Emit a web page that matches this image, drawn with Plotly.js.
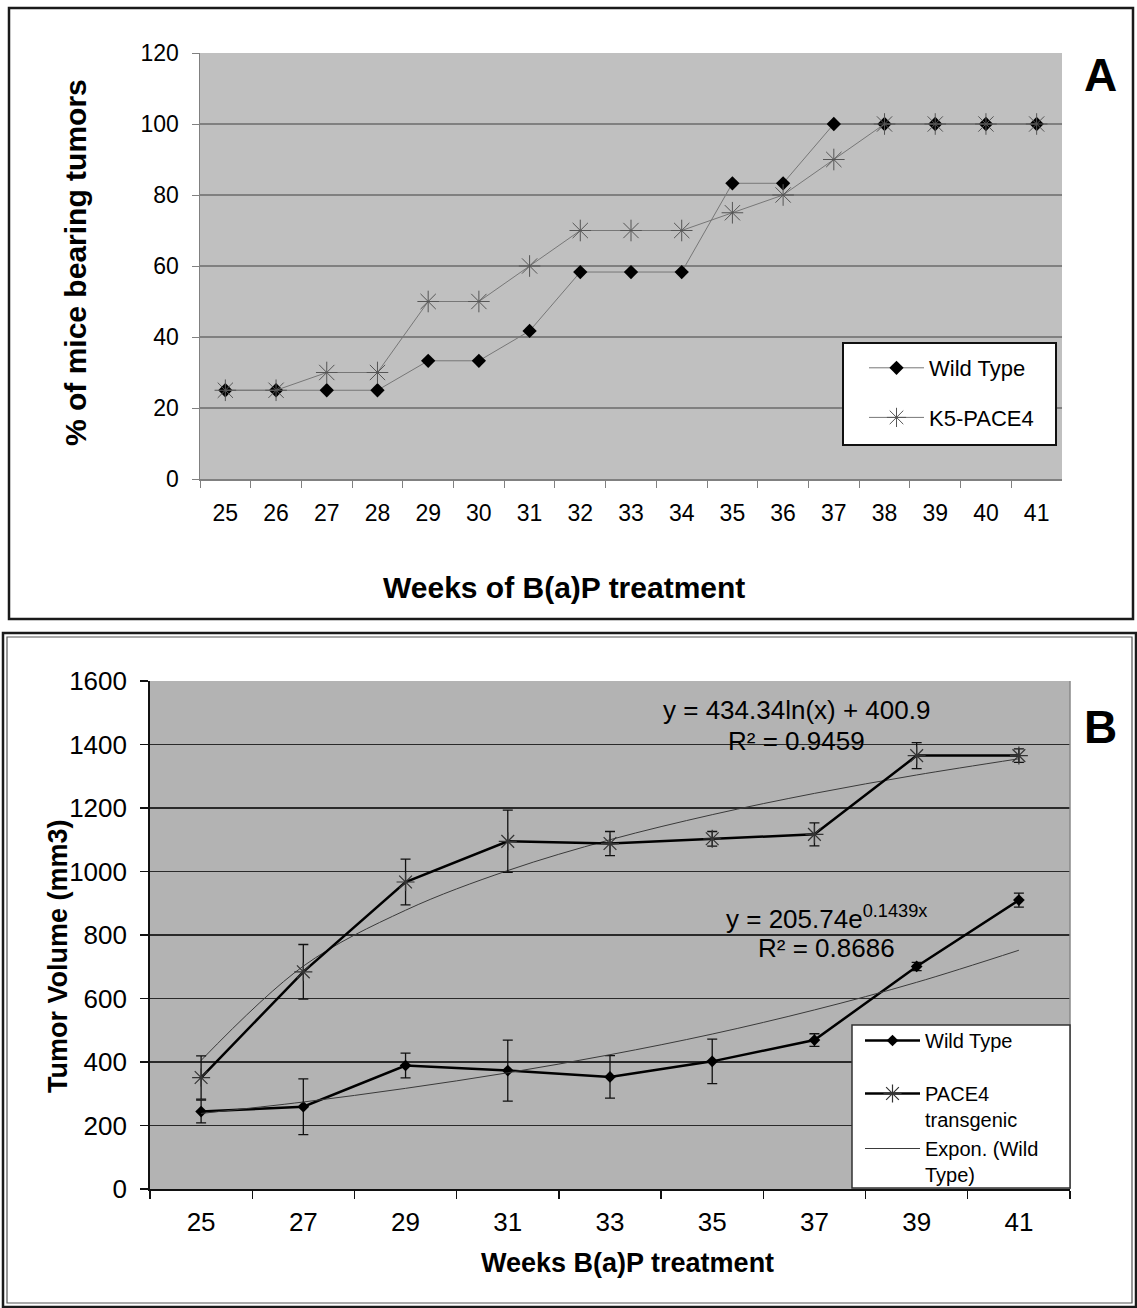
<!DOCTYPE html>
<html>
<head>
<meta charset="utf-8">
<script src="https://cdn.plot.ly/plotly-3.0.1.min.js"></script>
<style>
html,body{margin:0;padding:0;background:#fff;}
#chart{width:1137px;height:1308px;}
</style>
</head>
<body>
<div id="chart"></div>
<script>
// ---------- Panel A data ----------
const weeksA = ['25','26','27','28','29','30','31','32','33','34','35','36','37','38','39','40','41'];
const wildTypeA = [25,25,25,25,33.3,33.3,41.7,58.3,58.3,58.3,83.3,83.3,100,100,100,100,100];
const k5Pace4A  = [25,25,30,30,50,50,60,70,70,70,75,80,90,100,100,100,100];
const yTicksA = [0,20,40,60,80,100,120];

// ---------- Panel B data ----------
const weeksB = ['25','27','29','31','33','35','37','39','41'];
const wildTypeB    = [244,259,389,373,353,402,469,701,910];
const wildTypeErrB = [36,88,39,96,67,70,20,13,22];
const pace4B       = [351,684,967,1095,1088,1103,1117,1365,1365];
const pace4ErrB    = [68,86,72,98,38,23,36,41,21];
const logTrendB    = [405,702,878,1003,1100,1179,1246,1304,1355];
const expTrendB    = [238,274,317,366,423,488,564,651,752];
const yTicksB = [0,200,400,600,800,1000,1200,1400,1600];

const W = 1137, H = 1308;
const px = v => v / W;
const py = v => 1 - v / H;
const FONT = 'Liberation Sans, Arial, Helvetica, sans-serif';

const traces = [
  {
    x: weeksA, y: wildTypeA, xaxis: 'x', yaxis: 'y', name: 'Wild Type',
    type: 'scatter', mode: 'lines+markers', legend: 'legend', legendgroup: 'a1',
    line: {color: '#777777', width: 1},
    marker: {symbol: 'diamond', size: 11, color: '#000000'}
  },
  {
    x: weeksA, y: k5Pace4A, xaxis: 'x', yaxis: 'y', name: 'K5-PACE4',
    type: 'scatter', mode: 'lines+markers', legend: 'legend', legendgroup: 'a2',
    line: {color: '#777777', width: 1},
    marker: {symbol: 'asterisk-open', size: 18, color: '#555555', line: {color: '#555555', width: 1}}
  },
  {
    x: weeksB, y: logTrendB, xaxis: 'x2', yaxis: 'y2', name: 'Log. (PACE4 transgenic)',
    type: 'scatter', mode: 'lines', showlegend: false,
    line: {color: '#3a3a3a', width: 1, shape: 'spline', smoothing: 1}
  },
  {
    x: weeksB, y: wildTypeB, xaxis: 'x2', yaxis: 'y2', name: 'Wild Type',
    type: 'scatter', mode: 'lines+markers', legend: 'legend2', legendgroup: 'b1',
    line: {color: '#000000', width: 2.5},
    marker: {symbol: 'diamond', size: 9, color: '#000000'},
    error_y: {type: 'data', array: wildTypeErrB, visible: true, color: '#111111', thickness: 1.3, width: 5}
  },
  {
    x: weeksB, y: pace4B, xaxis: 'x2', yaxis: 'y2', name: 'PACE4<br>transgenic',
    type: 'scatter', mode: 'lines+markers', legend: 'legend2', legendgroup: 'b2',
    line: {color: '#000000', width: 2.5},
    marker: {symbol: 'asterisk-open', size: 15, color: '#333333', line: {color: '#333333', width: 1.2}},
    error_y: {type: 'data', array: pace4ErrB, visible: true, color: '#111111', thickness: 1.3, width: 5}
  },
  {
    x: weeksB, y: expTrendB, xaxis: 'x2', yaxis: 'y2', name: 'Expon. (Wild<br>Type)',
    type: 'scatter', mode: 'lines', legend: 'legend2', legendgroup: 'b2',
    line: {color: '#3a3a3a', width: 1, shape: 'spline', smoothing: 1}
  }
];

const layout = {
  width: W, height: H,
  margin: {l: 0, r: 0, t: 0, b: 0},
  paper_bgcolor: '#ffffff',
  plot_bgcolor: '#c0c0c0',
  font: {family: FONT, color: '#000000'},
  showlegend: true,
  xaxis: {
    domain: [px(200), px(1062)], anchor: 'y',
    type: 'category', categoryorder: 'array', categoryarray: weeksA,
    range: [-0.5, 16.5], tickson: 'boundaries',
    ticks: 'outside', ticklen: 7, tickcolor: '#808080', tickwidth: 1,
    showline: true, linecolor: '#808080', linewidth: 1.5,
    showgrid: false, zeroline: false,
    tickfont: {size: 23, family: FONT}, ticklabelstandoff: 13,
    fixedrange: true
  },
  yaxis: {
    domain: [py(479), py(53)], anchor: 'x',
    range: [0, 120], tickvals: yTicksA, ticktext: yTicksA.map(String),
    ticks: 'outside', ticklen: 7, tickcolor: '#808080',
    showline: true, linecolor: '#808080', linewidth: 1.5,
    showgrid: true, gridcolor: '#808080', gridwidth: 1.3, zeroline: false,
    tickfont: {size: 23, family: FONT}, ticklabelstandoff: 8,
    fixedrange: true
  },
  xaxis2: {
    domain: [px(150), px(1070)], anchor: 'y2',
    type: 'category', categoryorder: 'array', categoryarray: weeksB,
    range: [-0.5, 8.5], tickson: 'boundaries',
    ticks: 'outside', ticklen: 8, tickcolor: '#111111', tickwidth: 1.3,
    showline: true, linecolor: '#111111', linewidth: 1.8,
    showgrid: false, zeroline: false,
    tickfont: {size: 26, family: FONT}, ticklabelstandoff: 9,
    fixedrange: true
  },
  yaxis2: {
    domain: [py(1189), py(681)], anchor: 'x2',
    range: [0, 1600], tickvals: yTicksB, ticktext: yTicksB.map(String),
    ticks: 'outside', ticklen: 8, tickcolor: '#111111', tickwidth: 1.3,
    showline: true, linecolor: '#111111', linewidth: 1.8,
    showgrid: true, gridcolor: '#2a2a2a', gridwidth: 1.6, zeroline: false,
    tickfont: {size: 26, family: FONT}, ticklabelstandoff: 8,
    fixedrange: true
  },
  legend: {
    x: px(864), y: py(347), xanchor: 'left', yanchor: 'top',
    bgcolor: 'rgba(0,0,0,0)', borderwidth: 0, itemwidth: 55,
    font: {size: 22, family: FONT, color: '#000'},
    traceorder: 'grouped', tracegroupgap: 18
  },
  legend2: {
    x: px(860), y: py(1021), xanchor: 'left', yanchor: 'top',
    bgcolor: 'rgba(0,0,0,0)', borderwidth: 0, valign: 'top', itemwidth: 55,
    font: {size: 20, family: FONT, color: '#000'},
    traceorder: 'grouped', tracegroupgap: 24
  },
  shapes: [
    // panel B plot background
    {type: 'rect', xref: 'x2 domain', yref: 'y2 domain', x0: 0, x1: 1, y0: 0, y1: 1,
     fillcolor: '#b3b3b3', line: {width: 0}, layer: 'below'},
    // panel B right plot edge
    {type: 'line', xref: 'x2 domain', yref: 'y2 domain', x0: 1, x1: 1, y0: 0, y1: 1,
     line: {color: '#888888', width: 1.5}, layer: 'above'},
    // legend boxes
    {type: 'rect', xref: 'paper', yref: 'paper', x0: px(843), x1: px(1056), y0: py(445), y1: py(343),
     fillcolor: '#ffffff', line: {color: '#111111', width: 2}, layer: 'above'},
    {type: 'rect', xref: 'paper', yref: 'paper', x0: px(852), x1: px(1070), y0: py(1188), y1: py(1025),
     fillcolor: '#ffffff', line: {color: '#333333', width: 1.5}, layer: 'above'},
    // panel borders
    {type: 'rect', xref: 'paper', yref: 'paper', x0: px(9), x1: px(1133), y0: py(619), y1: py(8),
     line: {color: '#1a1a1a', width: 2.5}, layer: 'above'},
    {type: 'rect', xref: 'paper', yref: 'paper', x0: px(3), x1: px(1136), y0: py(1307), y1: py(633),
     line: {color: '#1a1a1a', width: 2.5}, layer: 'above'},
    {type: 'rect', xref: 'paper', yref: 'paper', x0: px(7), x1: px(1132), y0: py(1303), y1: py(637),
     line: {color: '#555555', width: 1.2}, layer: 'above'}
  ],
  annotations: [
    {text: '<b>A</b>', xref: 'paper', yref: 'paper', x: px(1100), y: py(75),
     xanchor: 'center', yanchor: 'middle', showarrow: false, font: {size: 46, family: FONT}},
    {text: '<b>B</b>', xref: 'paper', yref: 'paper', x: px(1100), y: py(727),
     xanchor: 'center', yanchor: 'middle', showarrow: false, font: {size: 46, family: FONT}},
    {text: '<b>Weeks of B(a)P treatment</b>', xref: 'paper', yref: 'paper', x: px(564), y: py(587),
     xanchor: 'center', yanchor: 'middle', showarrow: false, font: {size: 30, family: FONT}},
    {text: '<b>% of mice bearing tumors</b>', xref: 'paper', yref: 'paper', x: px(75), y: py(263),
     xanchor: 'center', yanchor: 'middle', textangle: -90, showarrow: false, font: {size: 30, family: FONT}},
    {text: '<b>Weeks B(a)P treatment</b>', xref: 'paper', yref: 'paper', x: px(627), y: py(1263),
     xanchor: 'center', yanchor: 'middle', showarrow: false, font: {size: 27, family: FONT}},
    {text: '<b>Tumor Volume (mm3)</b>', xref: 'paper', yref: 'paper', x: px(58), y: py(956),
     xanchor: 'center', yanchor: 'middle', textangle: -90, showarrow: false, font: {size: 27, family: FONT}},
    {text: 'y = 434.34ln(x) + 400.9', xref: 'paper', yref: 'paper', x: px(796), y: py(710),
     xanchor: 'center', yanchor: 'middle', showarrow: false, font: {size: 26, family: FONT}},
    {text: 'R² = 0.9459', xref: 'paper', yref: 'paper', x: px(796), y: py(741),
     xanchor: 'center', yanchor: 'middle', showarrow: false, font: {size: 26, family: FONT}},
    {text: 'y = 205.74e<sup>0.1439x</sup>', xref: 'paper', yref: 'paper', x: px(826), y: py(917),
     xanchor: 'center', yanchor: 'middle', showarrow: false, font: {size: 26, family: FONT}},
    {text: 'R² = 0.8686', xref: 'paper', yref: 'paper', x: px(826), y: py(948),
     xanchor: 'center', yanchor: 'middle', showarrow: false, font: {size: 26, family: FONT}}
  ]
};

Plotly.newPlot('chart', traces, layout, {staticPlot: true, displayModeBar: false});
</script>
</body>
</html>
